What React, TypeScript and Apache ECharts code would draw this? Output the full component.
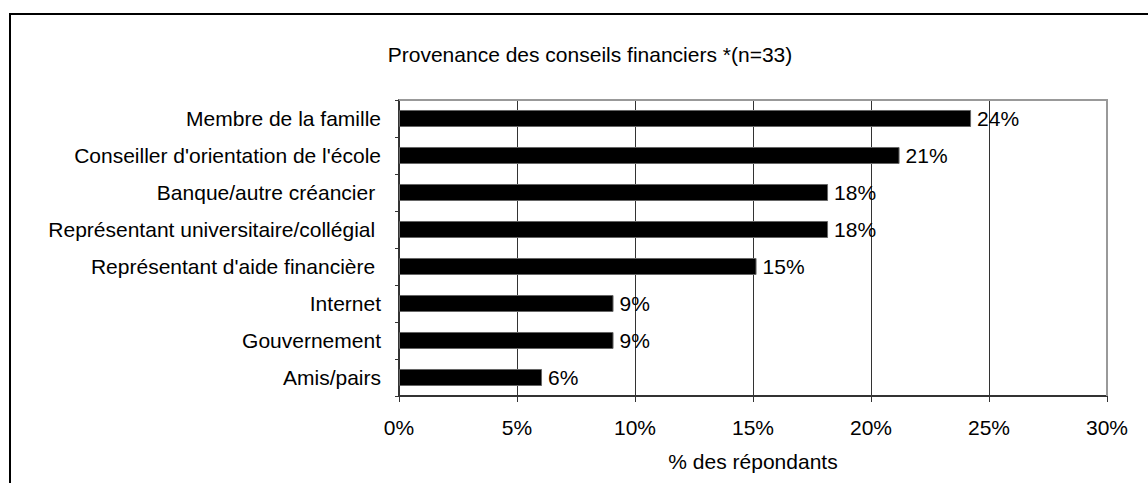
import React, { useEffect, useRef } from "react";
import * as echarts from "echarts";

const title = "Provenance des conseils financiers *(n=33)";
const categories = [
  "Membre de la famille",
  "Conseiller d'orientation de l'école",
  "Banque/autre créancier ",
  "Représentant universitaire/collégial ",
  "Représentant d'aide financière ",
  "Internet",
  "Gouvernement",
  "Amis/pairs",
];
const values = [24.24, 21.21, 18.18, 18.18, 15.15, 9.09, 9.09, 6.06];
const xAxisName = "% des répondants";
const xMin = 0;
const xMax = 30;
const xStep = 5;

const FONT = "'Liberation Sans', Arial, sans-serif";
const FS = 21;

export default function App() {
  const ref = useRef<HTMLDivElement>(null);
  useEffect(() => {
    if (!ref.current) return;
    const chart = echarts.init(ref.current, null, { renderer: "svg" });
    chart.setOption({
      animation: false,
      backgroundColor: "#fff",
      textStyle: { fontFamily: FONT },
      title: {
        text: title,
        left: 585,
        top: 39,
        textAlign: "center",
        textStyle: { fontFamily: FONT, fontSize: FS, fontWeight: "normal", color: "#000" },
      },
      graphic: [
        {
          type: "polyline",
          shape: { points: [[10, 500], [10, 14], [1160, 14]] },
          style: { stroke: "#000", lineWidth: 2, fill: null },
          silent: true,
        },
        {
          type: "polyline",
          shape: { points: [[399, 100], [1107, 100], [1107, 396]] },
          style: { stroke: "#999", lineWidth: 2, fill: null },
          silent: true,
          z: 10,
        },
      ],
      grid: { left: 399, right: 41, top: 100, bottom: 87, containLabel: false },
      xAxis: {
        type: "value",
        min: xMin,
        max: xMax,
        interval: xStep,
        name: xAxisName,
        nameLocation: "middle",
        nameGap: 55,
        nameTextStyle: { fontFamily: FONT, fontSize: FS, color: "#000" },
        axisLine: { show: true, lineStyle: { color: "#333", width: 2 } },
        axisTick: { show: true, length: 6, lineStyle: { color: "#333", width: 1 } },
        axisLabel: {
          formatter: (v: number) => `${v}%`,
          fontFamily: FONT,
          fontSize: FS,
          color: "#000",
          margin: 21,
        },
        splitLine: { show: true, lineStyle: { color: "#333", width: 1 } },
      },
      yAxis: {
        type: "category",
        data: categories,
        inverse: true,
        axisLine: { show: true, lineStyle: { color: "#333", width: 2 } },
        axisTick: { show: true, length: 4, lineStyle: { color: "#333", width: 1 } },
        axisLabel: { fontFamily: FONT, fontSize: FS, color: "#000", margin: 18 },
        splitLine: { show: false },
      },
      series: [
        {
          type: "bar",
          data: values,
          barCategoryGap: "54%",
          itemStyle: { color: "#000", borderColor: "#666", borderWidth: 1 },
          label: {
            show: true,
            position: "right",
            distance: 6,
            formatter: (p: any) => `${Math.round(p.value)}%`,
            fontFamily: FONT,
            fontSize: FS,
            color: "#000",
          },
        },
      ],
    });
    return () => chart.dispose();
  }, []);
  return (
    <div
      ref={ref}
      style={{ position: "fixed", left: 0, top: 0, width: 1148, height: 483 }}
    />
  );
}
